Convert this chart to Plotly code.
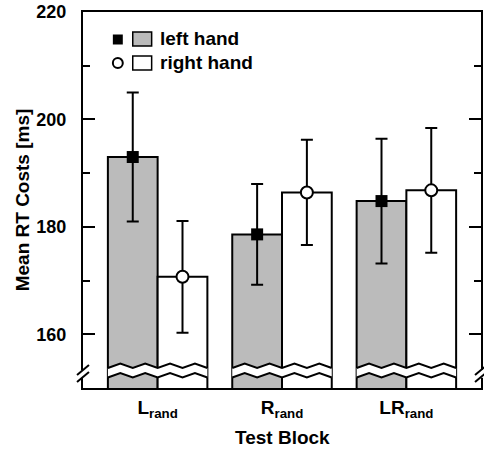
import plotly.graph_objects as go

# datos
blocks = ["L<sub>rand</sub>", "R<sub>rand</sub>", "LR<sub>rand</sub>"]
left_hand = [193.0, 178.6, 184.8]
left_err = [12.0, 9.4, 11.6]
right_hand = [170.7, 186.4, 186.8]
right_err = [10.4, 9.8, 11.6]

FONT = "Liberation Sans, Arial, sans-serif"
GRAY = "#bbbbbb"
W, H = 484, 450
ML, MR, MT, MB = 83, 1, 12, 62
PW, PH = W - ML - MR, H - MT - MB
Y0, Y1 = 150, 220
BW = 0.4  # ancho de cada barra (bargap 0.2)


def xp(px):
    return (px - ML) / PW


def ypp(py):
    return (H - MB - py) / PH


def yv(py):
    # pixel -> valor del eje y
    return Y1 - (py - MT) / PH * (Y1 - Y0)


xs = list(range(len(blocks)))

fig = go.Figure()
fig.add_trace(go.Bar(x=xs, y=left_hand, marker=dict(color=GRAY, line=dict(color="black", width=2)),
                     showlegend=False, hoverinfo="skip"))
fig.add_trace(go.Bar(x=xs, y=right_hand, marker=dict(color="white", line=dict(color="black", width=2)),
                     showlegend=False, hoverinfo="skip"))

fig.add_trace(go.Scatter(
    x=[x - BW / 2 for x in xs], y=left_hand, mode="markers",
    marker=dict(symbol="square", size=12, color="black"),
    error_y=dict(type="data", array=left_err, color="black", thickness=2, width=6),
    showlegend=False))
fig.add_trace(go.Scatter(
    x=[x + BW / 2 for x in xs], y=right_hand, mode="markers",
    marker=dict(symbol="circle", size=12, color="white", line=dict(color="black", width=2)),
    error_y=dict(type="data", array=right_err, color="black", thickness=2, width=6),
    showlegend=False))

shapes = []

# corte del eje en las barras (zigzag)
up_lo, up_hi = yv(368), yv(363.5)
lo_lo, lo_hi = yv(377.5), yv(373)
for x in xs:
    left = x - BW
    pts_x = [left + j * BW / 4 for j in range(9)]
    up = [(px, up_lo if j % 2 == 0 else up_hi) for j, px in enumerate(pts_x)]
    lo = [(px, lo_lo if j % 2 == 0 else lo_hi) for j, px in enumerate(pts_x)]
    fill = "M " + " L ".join(f"{a},{b}" for a, b in up) + " L " + \
        " L ".join(f"{a},{b}" for a, b in reversed(lo)) + " Z"
    shapes.append(dict(type="path", path=fill, xref="x", yref="y", fillcolor="white",
                       line=dict(width=0), layer="above"))
    for line in (up, lo):
        p = "M " + " L ".join(f"{a},{b}" for a, b in line)
        shapes.append(dict(type="path", path=p, xref="x", yref="y",
                           line=dict(color="black", width=2), layer="above"))

# corte en los ejes izquierdo y derecho
for edge in (ML, ML + PW):
    shapes.append(dict(type="rect", xref="paper", yref="y", x0=xp(edge - 3), x1=xp(edge + 3),
                       y0=yv(377.8), y1=yv(370), fillcolor="white", line=dict(width=0), layer="above"))
    for dy in (0, 7):
        shapes.append(dict(type="line", xref="paper", yref="y",
                           x0=xp(edge - 6), y0=yv(375 + dy), x1=xp(edge + 6), y1=yv(365 + dy),
                           line=dict(color="black", width=2), layer="above"))

# leyenda hecha a mano
shapes += [
    dict(type="rect", xref="paper", yref="paper", x0=xp(113), x1=xp(123), y0=ypp(44.5), y1=ypp(34.5),
         fillcolor="black", line=dict(width=0)),
    dict(type="rect", xref="paper", yref="paper", x0=xp(133), x1=xp(152), y0=ypp(46), y1=ypp(32),
         fillcolor=GRAY, line=dict(color="black", width=1.5)),
    dict(type="circle", xref="paper", yref="paper", x0=xp(113), x1=xp(123), y0=ypp(68), y1=ypp(58),
         fillcolor="white", line=dict(color="black", width=2)),
    dict(type="rect", xref="paper", yref="paper", x0=xp(133), x1=xp(152), y0=ypp(70), y1=ypp(56),
         fillcolor="white", line=dict(color="black", width=1.5)),
]

annotations = [
    dict(text="left hand", x=xp(158), y=ypp(39), xref="paper", yref="paper", xanchor="left",
         yanchor="middle", showarrow=False, font=dict(size=19, family=FONT, color="black", weight="bold")),
    dict(text="right hand", x=xp(158), y=ypp(63), xref="paper", yref="paper", xanchor="left",
         yanchor="middle", showarrow=False, font=dict(size=19, family=FONT, color="black", weight="bold")),
    dict(text="Test Block", x=0.5, y=ypp(437), xref="paper", yref="paper", xanchor="center",
         yanchor="middle", showarrow=False, font=dict(size=19, family=FONT, color="black", weight="bold")),
    dict(text="Mean RT Costs [ms]", x=xp(22), y=0.5, xref="paper", yref="paper", xanchor="center",
         yanchor="middle", textangle=-90, showarrow=False,
         font=dict(size=19, family=FONT, color="black", weight="bold")),
]

fig.update_layout(
    width=W, height=H, autosize=False,
    margin=dict(l=ML, r=MR, t=MT, b=MB),
    barmode="group", bargap=0.2, bargroupgap=0,
    plot_bgcolor="white", paper_bgcolor="white",
    shapes=shapes, annotations=annotations,
    font=dict(family=FONT, color="black"),
)
fig.update_xaxes(
    range=[-0.6, len(blocks) - 0.4], tickvals=xs, ticktext=blocks, ticks="",
    showline=True, linecolor="black", linewidth=2, mirror=True, showgrid=False, zeroline=False,
    tickfont=dict(size=19, family=FONT, weight="bold"), ticklabelstandoff=1,
)
fig.update_yaxes(
    range=[Y0, Y1], tick0=160, dtick=20, ticks="inside", ticklen=12, tickwidth=2, tickcolor="black",
    minor=dict(tick0=150, dtick=10, ticks="inside", ticklen=7, tickwidth=2, tickcolor="black"),
    showline=True, linecolor="black", linewidth=2, mirror="allticks", showgrid=False, zeroline=False,
    tickfont=dict(size=18, family=FONT, weight="bold"), ticklabelstandoff=11,
)

# quitar el margen y las barras de desplazamiento del body
fig.write_html("out.html", config={"displayModeBar": False, "responsive": False},
               post_script="document.body.style.margin='0';document.body.style.overflow='hidden';")
